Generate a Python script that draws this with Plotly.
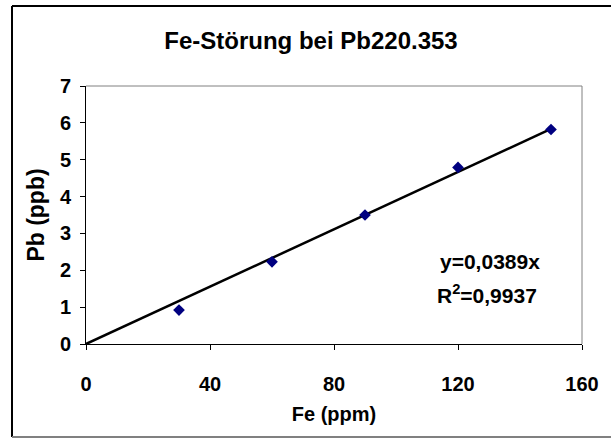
import plotly.graph_objects as go

fe_ppm = [30, 60, 90, 120, 150]
pb_ppb = [0.92, 2.23, 3.5, 4.79, 5.82]
slope = 0.0389
trend_x = [0, 150]
x_ticks = [0, 40, 80, 120, 160]
y_ticks = [0, 1, 2, 3, 4, 5, 6, 7]

W, H = 611, 439
L, R, T, B = 86, 29, 86, 95
pw, ph = W - L - R, H - T - B

def px(x):
    return (x - L) / pw

def py(y):
    return (H - B - y) / ph

FONT = "Liberation Sans, Arial, sans-serif"

fig = go.Figure()
fig.add_trace(go.Scatter(x=trend_x, y=[slope * v for v in trend_x], mode="lines",
                         line=dict(color="black", width=2.5), hoverinfo="skip"))
fig.add_trace(go.Scatter(x=fe_ppm, y=pb_ppb, mode="markers",
                         marker=dict(symbol="diamond", color="#000080", size=9)))

axis_common = dict(showgrid=False, zeroline=False, showline=True, linecolor="black",
                   linewidth=1, ticks="outside", ticklen=5, tickcolor="black",
                   tickfont=dict(family=FONT, size=20, color="black", weight="bold"))
fig.update_xaxes(range=[0, 160], tickvals=x_ticks, ticktext=[str(v) for v in x_ticks],
                 ticklabelstandoff=17,
                 title=dict(text="Fe (ppm)", font=dict(family=FONT, size=20, color="black", weight="bold"),
                            standoff=12), **axis_common)
fig.update_yaxes(range=[0, 7], tickvals=y_ticks, ticktext=[str(v) for v in y_ticks],
                 ticklabelstandoff=5,
                 title=dict(text="Pb (ppb)", font=dict(family=FONT, size=23, color="black", weight="bold"),
                            standoff=8), **axis_common)

shapes = [
    dict(type="line", xref="paper", yref="paper", x0=0, y0=1, x1=1, y1=1, line=dict(color="#808080", width=1)),
    dict(type="line", xref="paper", yref="paper", x0=1, y0=0, x1=1, y1=1, line=dict(color="#808080", width=1)),
    dict(type="line", xref="paper", yref="paper", x0=px(12), y0=py(6), x1=px(611), y1=py(6), line=dict(color="black", width=2)),
    dict(type="line", xref="paper", yref="paper", x0=px(12), y0=py(6), x1=px(12), y1=py(437), line=dict(color="black", width=2)),
    dict(type="line", xref="paper", yref="paper", x0=px(12), y0=py(437), x1=px(611), y1=py(437), line=dict(color="#808080", width=2)),
]

annotations = [
    dict(text="y=0,0389x", x=px(490), y=py(261), xref="paper", yref="paper", showarrow=False,
         xanchor="center", yanchor="middle",
         font=dict(family=FONT, size=21, color="black", weight="bold")),
    dict(text="R<sup>2</sup>=0,9937", x=px(487), y=py(294), xref="paper", yref="paper", showarrow=False,
         xanchor="center", yanchor="middle",
         font=dict(family=FONT, size=21, color="black", weight="bold")),
]

fig.update_layout(
    width=W, height=H, margin=dict(l=L, r=R, t=T, b=B),
    paper_bgcolor="white", plot_bgcolor="white", showlegend=False,
    title=dict(text="Fe-Störung bei Pb220.353", x=311 / W, xanchor="center",
               y=1 - 41 / H, yanchor="middle",
               font=dict(family=FONT, size=24, color="black", weight="bold")),
    shapes=shapes, annotations=annotations,
)

fig.write_html("out.html")
